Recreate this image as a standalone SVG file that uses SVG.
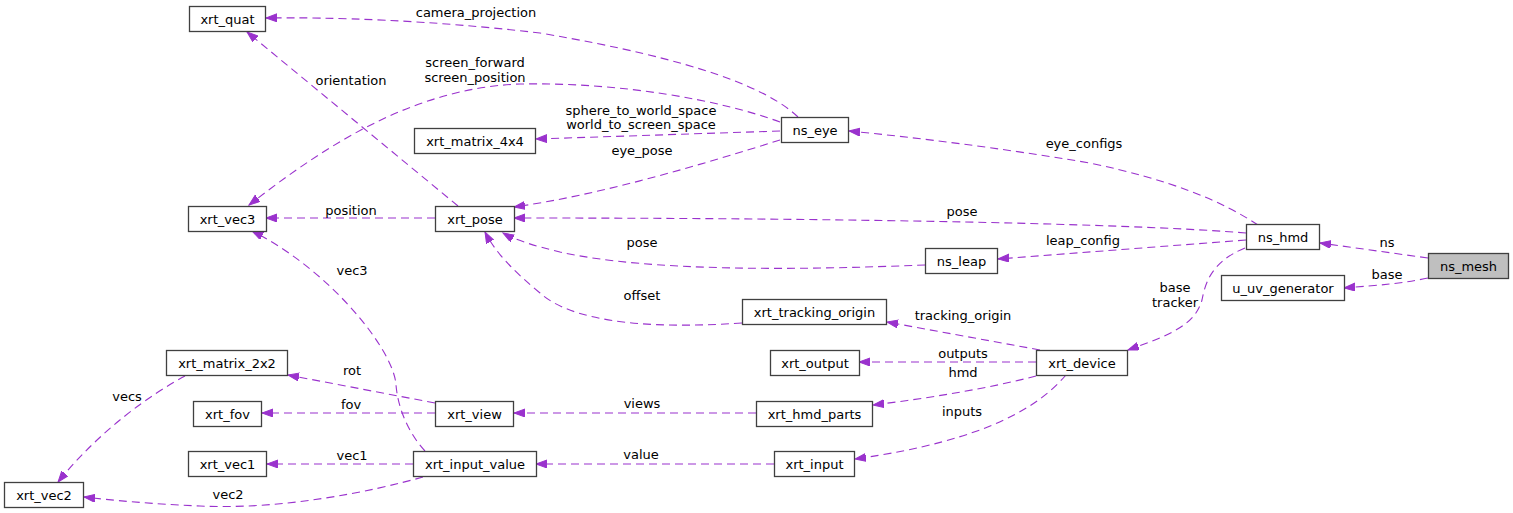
<svg xmlns="http://www.w3.org/2000/svg" width="1513" height="513" viewBox="0 0 1513 513">
<defs>
<style>
.node rect{fill:#ffffff;stroke:#404040;stroke-width:1.3}
.node.root rect{fill:#bfbfbf}
.node text{font-family:"DejaVu Sans",sans-serif;font-size:13px;fill:#000;text-anchor:middle}
.edges path{fill:none;stroke:#9a32cd;stroke-width:1.1;stroke-dasharray:8,5;marker-end:url(#arr)}
.edges text{font-family:"DejaVu Sans",sans-serif;font-size:13px;fill:#000;text-anchor:middle}
</style>
<marker id="arr" markerUnits="userSpaceOnUse" markerWidth="14" markerHeight="10" refX="11" refY="4" orient="auto">
<path d="M0,0 L11,4 L0,8 Z" fill="#9a32cd" stroke="#9a32cd" stroke-width="1"/>
</marker>
</defs>
<rect width="1513" height="513" fill="#ffffff"/>
<g id="connectors" class="edges">
<path d="M798,117 C770,90 700,60 540,33 C430,20 330,17 266,18"/>
<text x="476" y="17">camera_projection</text>
<path d="M780,122 C720,100 620,82 520,84 C410,88 320,150 249,205"/>
<text x="475" y="67">screen_forward</text>
<text x="475" y="82">screen_position</text>
<path d="M780,131 L536,139"/>
<text x="641" y="115">sphere_to_world_space</text>
<text x="641" y="129">world_to_screen_space</text>
<path d="M780,140 C700,165 600,195 514,207"/>
<text x="642" y="155">eye_pose</text>
<path d="M1258,225 C1220,200 1170,180 1090,163 C1000,148 920,138 849,131"/>
<text x="1084" y="148">eye_configs</text>
<path d="M1246,233 C1150,225 900,218 514,218"/>
<text x="962" y="216">pose</text>
<path d="M1246,240 L998,259"/>
<text x="1083" y="245">leap_config</text>
<path d="M925,265 C800,270 650,272 560,252 C535,246 515,240 503,233"/>
<text x="642" y="247">pose</text>
<path d="M742,323 C640,330 570,320 540,293 C515,272 497,255 485,232"/>
<text x="642" y="300">offset</text>
<path d="M1040,350 L887,322"/>
<text x="963" y="320">tracking_origin</text>
<path d="M1245,248 C1210,262 1205,285 1202,300 C1195,325 1170,335 1128,350"/>
<text x="1175" y="292">base</text>
<text x="1175" y="307">tracker</text>
<path d="M1428,258 L1320,243"/>
<text x="1387" y="247">ns</text>
<path d="M1428,278 C1400,284 1380,285 1344,288"/>
<text x="1387" y="279">base</text>
<path d="M1036,362 L859,362"/>
<text x="963" y="358">outputs</text>
<path d="M1036,376 C990,388 930,398 873,405"/>
<text x="963" y="377">hmd</text>
<path d="M1066,375 C1040,405 990,440 855,459"/>
<text x="962" y="416">inputs</text>
<path d="M756,413 L514,413"/>
<text x="642" y="408">views</text>
<path d="M774,464 L536,464"/>
<text x="641" y="459">value</text>
<path d="M458,206 L247,32"/>
<text x="351" y="85">orientation</text>
<path d="M435,218 L266,218"/>
<text x="351" y="215">position</text>
<path d="M425,451 C410,435 398,410 396,385 C394,350 330,270 252,231"/>
<text x="352" y="275">vec3</text>
<path d="M435,403 L288,375"/>
<text x="352" y="375">rot</text>
<path d="M435,413 L262,413"/>
<text x="351" y="409">fov</text>
<path d="M185,376 C150,395 100,430 58,482"/>
<text x="127" y="401">vecs</text>
<path d="M413,464 L267,464"/>
<text x="352" y="460">vec1</text>
<path d="M423,477 C370,492 280,510 200,506 C150,504 110,500 84,497"/>
<text x="228" y="499">vec2</text>
</g>
<g id="xrt_quat" class="node"><rect x="189.5" y="6.5" width="76" height="25"/><text x="227.5" y="23.5">xrt_quat</text></g>
<g id="xrt_matrix_4x4" class="node"><rect x="414.5" y="128.5" width="121" height="25"/><text x="475" y="145.5">xrt_matrix_4x4</text></g>
<g id="ns_eye" class="node"><rect x="781.5" y="117.5" width="67" height="25"/><text x="815" y="134.5">ns_eye</text></g>
<g id="xrt_vec3" class="node"><rect x="188.5" y="206.5" width="78" height="25"/><text x="227.5" y="223.5">xrt_vec3</text></g>
<g id="xrt_pose" class="node"><rect x="435.5" y="206.5" width="79" height="25"/><text x="475" y="223.5">xrt_pose</text></g>
<g id="ns_hmd" class="node"><rect x="1246.5" y="224.5" width="73" height="25"/><text x="1283" y="241.5">ns_hmd</text></g>
<g id="ns_leap" class="node"><rect x="925.5" y="248.5" width="72" height="25"/><text x="961.5" y="265.5">ns_leap</text></g>
<g id="ns_mesh" class="node root"><rect x="1428.5" y="253.5" width="80" height="25"/><text x="1468.5" y="270.5">ns_mesh</text></g>
<g id="u_uv_generator" class="node"><rect x="1221.5" y="275.5" width="123" height="25"/><text x="1283" y="292.5">u_uv_generator</text></g>
<g id="xrt_tracking_origin" class="node"><rect x="742.5" y="299.5" width="144" height="25"/><text x="814.5" y="316.5">xrt_tracking_origin</text></g>
<g id="xrt_device" class="node"><rect x="1036.5" y="350.5" width="91" height="25"/><text x="1082" y="367.5">xrt_device</text></g>
<g id="xrt_output" class="node"><rect x="770.5" y="350.5" width="89" height="25"/><text x="815" y="367.5">xrt_output</text></g>
<g id="xrt_matrix_2x2" class="node"><rect x="166.5" y="350.5" width="121" height="25"/><text x="227" y="367.5">xrt_matrix_2x2</text></g>
<g id="xrt_fov" class="node"><rect x="193.5" y="401.5" width="68" height="25"/><text x="227.5" y="418.5">xrt_fov</text></g>
<g id="xrt_view" class="node"><rect x="435.5" y="401.5" width="78" height="25"/><text x="474.5" y="418.5">xrt_view</text></g>
<g id="xrt_hmd_parts" class="node"><rect x="756.5" y="401.5" width="116" height="25"/><text x="814.5" y="418.5">xrt_hmd_parts</text></g>
<g id="xrt_vec1" class="node"><rect x="188.5" y="451.5" width="78" height="25"/><text x="227.5" y="468.5">xrt_vec1</text></g>
<g id="xrt_input_value" class="node"><rect x="413.5" y="451.5" width="123" height="25"/><text x="475" y="468.5">xrt_input_value</text></g>
<g id="xrt_input" class="node"><rect x="774.5" y="451.5" width="80" height="25"/><text x="814.5" y="468.5">xrt_input</text></g>
<g id="xrt_vec2" class="node"><rect x="4.5" y="482.5" width="79" height="25"/><text x="44" y="499.5">xrt_vec2</text></g>
</svg>
